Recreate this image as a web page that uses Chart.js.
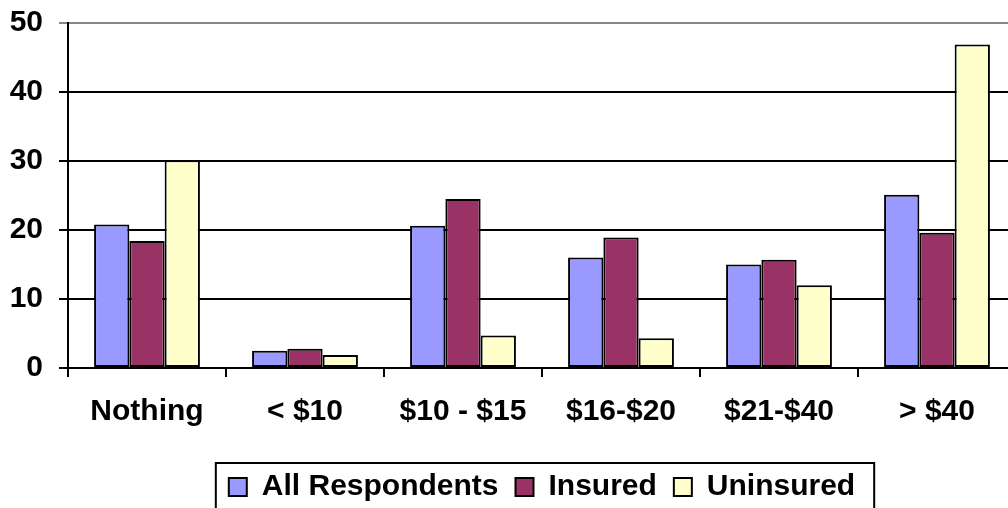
<!DOCTYPE html>
<html>
<head>
<meta charset="utf-8">
<script src="https://cdn.jsdelivr.net/npm/chart.js@4/dist/chart.umd.min.js"></script>
<style>
  html, body { margin: 0; padding: 0; background: #fff; overflow: hidden; }
  #wrap { width: 1016px; height: 512px; }
</style>
</head>
<body>
<div id="wrap"><canvas id="barChart" width="1016" height="512"></canvas></div>
<script>
// data
const categories = ['Nothing', '< $10', '$10 - $15', '$16-$20', '$21-$40', '> $40'];
const allRespondents = [20.8, 2.5, 20.6, 16.0, 15.0, 25.1];
const insured = [18.4, 2.8, 24.5, 18.9, 15.7, 19.6];
const uninsured = [30.1, 1.9, 4.7, 4.3, 12.0, 46.9];
const yTicks = [0, 10, 20, 30, 40, 50];

const FONT = 'Liberation Sans, Arial, sans-serif';

// rectangle around the legend, like the original
const legendBorder = {
    id: 'legendBorder',
    afterDraw(chart) {
        const boxes = chart.legend.legendHitBoxes;
        if (!boxes || !boxes.length) return;
        const left = Math.min(...boxes.map(b => b.left)) - 13;
        const right = Math.max(...boxes.map(b => b.left + b.width)) + 19;
        const mid = boxes[0].top + boxes[0].height / 2;
        const ctx = chart.ctx;
        ctx.save();
        ctx.strokeStyle = '#000';
        ctx.lineWidth = 2;
        ctx.strokeRect(left, mid - 24, right - left, 80);
        ctx.restore();
    }
};

function makeSet(label, values, color) {
    return {
        label: label,
        data: values,
        backgroundColor: color,
        borderColor: '#000',
        borderWidth: 2,
        borderSkipped: false,
        categoryPercentage: 0.67,
        barPercentage: 1.0
    };
}

Chart.defaults.color = '#000';
Chart.defaults.font.family = FONT;

new Chart(document.getElementById('barChart'), {
    type: 'bar',
    data: {
        labels: categories,
        datasets: [
            makeSet('All Respondents', allRespondents, '#9999FF'),
            makeSet('Insured', insured, '#993366'),
            makeSet('Uninsured', uninsured, '#FFFFCC')
        ]
    },
    options: {
        responsive: false,
        animation: false,
        layout: { padding: { left: 10, top: 23, right: 0, bottom: 0 } },
        scales: {
            x: {
                grid: {
                    offset: true,
                    drawOnChartArea: false,
                    drawTicks: true,
                    tickLength: 9,
                    color: '#000',
                    lineWidth: 2
                },
                border: { display: true, color: '#000', width: 2 },
                ticks: {
                    padding: 17,
                    maxRotation: 0,
                    font: { size: 30, weight: 'bold' },
                    color: '#000'
                },
                afterFit(scale) {
                    scale.height += 8;
                    scale.paddingLeft = 0;
                    scale.paddingRight = 0;
                }
            },
            y: {
                min: 0,
                max: 50,
                afterBuildTicks(scale) { scale.ticks = yTicks.map(v => ({ value: v })); },
                afterFit(scale) {
                    scale.width = 58;
                    scale.paddingTop = 0;
                    scale.paddingBottom = 0;
                },
                grid: {
                    color: ctx => (ctx.tick && ctx.tick.value === 50) ? '#888' : '#000',
                    lineWidth: 2,
                    tickLength: 9
                },
                border: { display: true, color: '#000', width: 2 },
                ticks: {
                    padding: 16,
                    font: { size: 30, weight: 'bold' },
                    color: '#000'
                }
            }
        },
        plugins: {
            legend: {
                position: 'bottom',
                fullSize: false,
                labels: {
                    boxWidth: 18,
                    boxHeight: 18,
                    padding: 17,
                    font: { size: 30, weight: 'bold' },
                    color: '#000'
                }
            },
            tooltip: { enabled: false }
        }
    },
    plugins: [legendBorder]
});
</script>
</body>
</html>
